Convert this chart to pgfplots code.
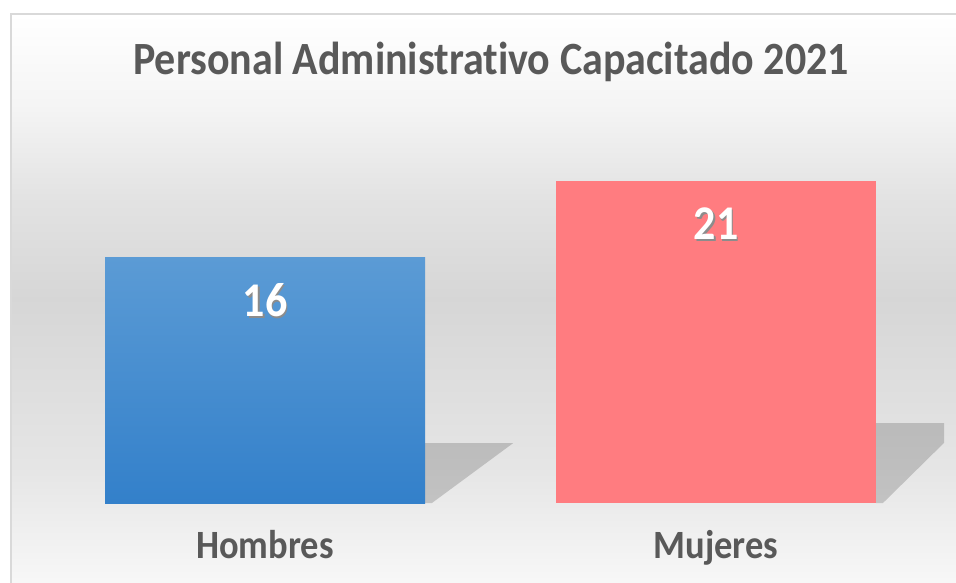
\documentclass[border=0pt]{standalone}
\usepackage{pgfplots}
\pgfplotsset{compat=1.18}
\usepackage{fontspec}
\setmainfont{Carlito}[Ligatures=NoCommon]
\usepackage{graphicx}
\definecolor{txtgray}{HTML}{595959}
\definecolor{blueTop}{HTML}{5B9BD5}
\definecolor{blueBot}{HTML}{3380CA}
\definecolor{pinkBar}{HTML}{FF7C80}
\definecolor{frame}{HTML}{D9D9D9}
\pgfdeclareverticalshading{bgshade}{100bp}{%
  color(0bp)=(white!97!black);
  color(25bp)=(white!97!black);
  color(35bp)=(white!90!black);
  color(50bp)=(white!84!black);
  color(59bp)=(white!89!black);
  color(67bp)=(white!96!black);
  color(75bp)=(white);
  color(100bp)=(white)}
\newcommand{\shadowed}[1]{\makebox[0pt][l]{\hspace{1.5pt}\raisebox{-1.5pt}{\textcolor{black!45}{#1}}}#1}
\begin{document}
\begin{tikzpicture}
\path[use as bounding box] (0,0) rectangle (956pt,583pt);
\shade[shading=bgshade] (11pt,0pt) rectangle (960pt,569pt);
\draw[frame, line width=1.5pt] (11pt,-5pt) -- (11pt,569pt) -- (962pt,569pt);
\begin{axis}[
  at={(0pt,0pt)}, anchor=south west,
  scale only axis, width=956pt, height=583pt,
  xmin=-0.5876, xmax=1.532, ymin=-5.21, ymax=32.77,
  axis line style={draw=none}, tick style={draw=none},
  ytick=\empty,
  xtick={0,1},
  xticklabels={\scalebox{1}[1.1]{Hombres},\scalebox{1}[1.1]{Mujeres}},
  xticklabel style={anchor=base, yshift=24pt, text=txtgray,
    font=\fontsize{36.5}{40}\selectfont\bfseries},
  /pgf/number format/assume math mode=true,
  nodes near coords={\scalebox{1}[1.1]{\shadowed{\pgfmathprintnumber{\pgfplotspointmeta}}}},
  every node near coord/.append style={anchor=center, yshift=-44pt,
    text=white, font=\fontsize{44}{48}\selectfont\bfseries},
]
% shadows (decorative)
\fill[black, opacity=0.17] (axis cs:0.3548,0) -- (axis cs:0.3548,3.9) -- (axis cs:0.55,3.9) -- (axis cs:0.37,0) -- cycle;
\fill[black, opacity=0.17] (axis cs:1.3548,0) -- (axis cs:1.3548,5.2) -- (axis cs:1.5055,5.2) -- (axis cs:1.5055,3.92) -- (axis cs:1.37,0) -- cycle;
\addplot[ybar, bar width=320pt, bar shift=0pt, draw=none,
  top color=blueTop, bottom color=blueBot] coordinates {(0,16)};
\addplot[ybar, bar width=320pt, bar shift=0pt, draw=none,
  fill=pinkBar] coordinates {(1,21)};
\end{axis}
\node[anchor=base, text=txtgray, font=\fontsize{42}{46}\selectfont\bfseries]
  at (491pt,508pt) {\scalebox{1}[1.1]{Personal Administrativo Capacitado 2021}};
\end{tikzpicture}
\end{document}
